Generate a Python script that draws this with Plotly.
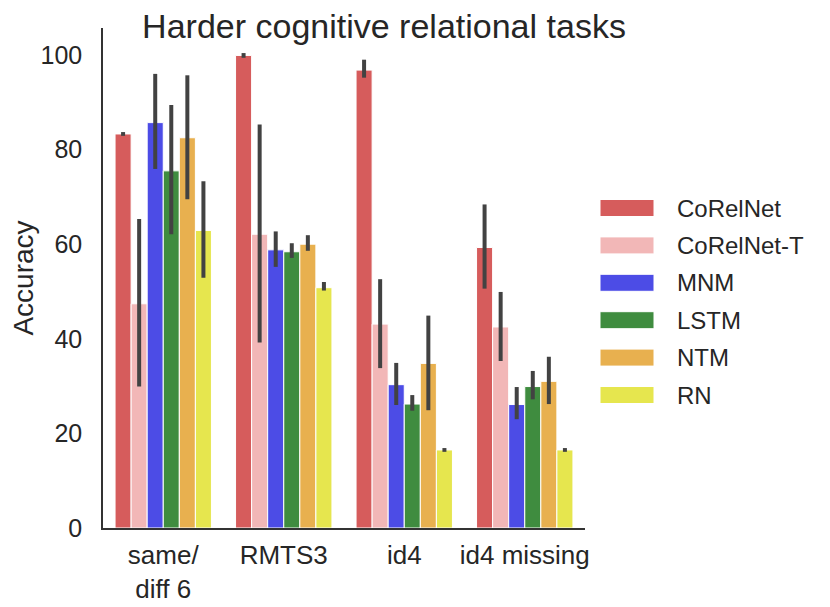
import plotly.graph_objects as go

categories = ["same/<br>diff 6", "RMTS3", "id4", "id4 missing"]
models = ["CoRelNet", "CoRelNet-T", "MNM", "LSTM", "NTM", "RN"]
colors = ["#d65c5c", "#f2b7b7", "#4c4ce6", "#3f8c3f", "#e8b04f", "#e6e64e"]

# mean accuracy per model, one value per task
acc_corelnet = [83.3, 99.9, 96.8, 59.3]
acc_corelnet_t = [47.4, 62.1, 43.1, 42.5]
acc_mnm = [85.7, 58.8, 30.3, 26.1]
acc_lstm = [75.5, 58.4, 26.2, 29.9]
acc_ntm = [82.5, 60.0, 34.8, 31.0]
acc_rn = [62.9, 50.8, 16.5, 16.5]

# confidence interval ends
hi_corelnet = [83.7, 100.4, 99.0, 68.4]
hi_corelnet_t = [65.3, 85.3, 52.6, 49.9]
hi_mnm = [96.0, 62.7, 34.9, 29.8]
hi_lstm = [89.4, 60.2, 28.1, 33.2]
hi_ntm = [95.7, 61.9, 44.9, 36.2]
hi_rn = [73.3, 52.0, 16.9, 16.9]

lo_corelnet = [82.9, 99.4, 95.2, 50.6]
lo_corelnet_t = [29.9, 39.2, 33.8, 35.3]
lo_mnm = [75.9, 55.2, 26.0, 23.0]
lo_lstm = [62.1, 57.1, 24.8, 27.2]
lo_ntm = [69.5, 58.6, 24.9, 26.2]
lo_rn = [52.9, 50.2, 16.1, 16.1]

means = [acc_corelnet, acc_corelnet_t, acc_mnm, acc_lstm, acc_ntm, acc_rn]
highs = [hi_corelnet, hi_corelnet_t, hi_mnm, hi_lstm, hi_ntm, hi_rn]
lows = [lo_corelnet, lo_corelnet_t, lo_mnm, lo_lstm, lo_ntm, lo_rn]

FONT = "Liberation Sans, Arial, sans-serif"
TXT = "#262626"

# the page puts the figure 8px in from the top-left corner
OFF = 8
FIG_W, FIG_H = 830 - OFF, 607 - OFF
PL, PR, PT, PB = 103 - OFF, 585 - OFF, 28 - OFF, 528 - OFF

fig = go.Figure()
for name, col, m, h, l in zip(models, colors, means, highs, lows):
    fig.add_trace(go.Bar(
        name=name, x=categories, y=m,
        marker=dict(color=col, line=dict(color="white", width=1)),
        error_y=dict(type="data", symmetric=False,
                     array=[b - a for a, b in zip(m, h)],
                     arrayminus=[a - b for a, b in zip(m, l)],
                     color="#424242", thickness=4, width=0),
        showlegend=False,
    ))

# legend drawn by hand so the swatches are wide like the original
W, H = float(PR - PL), float(PB - PT)
for i, (name, col) in enumerate(zip(models, colors)):
    yc = 208 + 37.4 * i - OFF
    fig.add_shape(type="rect", xref="paper", yref="paper",
                  x0=(600 - OFF - PL) / W, x1=(654 - OFF - PL) / W,
                  y0=(PB - yc - 8.5) / H, y1=(PB - yc + 8.5) / H,
                  fillcolor=col, line=dict(color="white", width=1))
    fig.add_annotation(text=name, xref="paper", yref="paper",
                       x=(675 - OFF - PL) / W, y=(PB - yc) / H,
                       xanchor="left", yanchor="middle", showarrow=False,
                       font=dict(size=24, color=TXT, family=FONT))

fig.update_layout(
    width=FIG_W, height=FIG_H,
    margin=dict(l=PL, r=FIG_W - PR, t=PT, b=FIG_H - PB),
    paper_bgcolor="white", plot_bgcolor="white",
    barmode="group", bargap=0.2, bargroupgap=0,
    font=dict(family=FONT, color=TXT, size=24),
    title=dict(text="Harder cognitive relational tasks",
               x=(384 - OFF) / FIG_W, xanchor="center", xref="container",
               y=1 - (26 - OFF) / FIG_H, yanchor="middle", yref="container",
               font=dict(size=34, color=TXT, family=FONT)),
    xaxis=dict(range=[-0.5, 3.5], showline=True, linecolor="#333333",
               linewidth=1.5, showgrid=False, ticks="", ticklabelstandoff=3,
               automargin=False, tickfont=dict(size=26, color=TXT)),
    yaxis=dict(range=[0, 105.7], showline=True, linecolor="#333333",
               linewidth=1.5, showgrid=False, zeroline=False, ticks="",
               tickvals=[0, 20, 40, 60, 80, 100], ticklabelstandoff=14,
               automargin=False, tickfont=dict(size=25, color=TXT),
               title=dict(text="Accuracy", standoff=10,
                          font=dict(size=28, color=TXT))),
)

fig.write_html("out.html")
